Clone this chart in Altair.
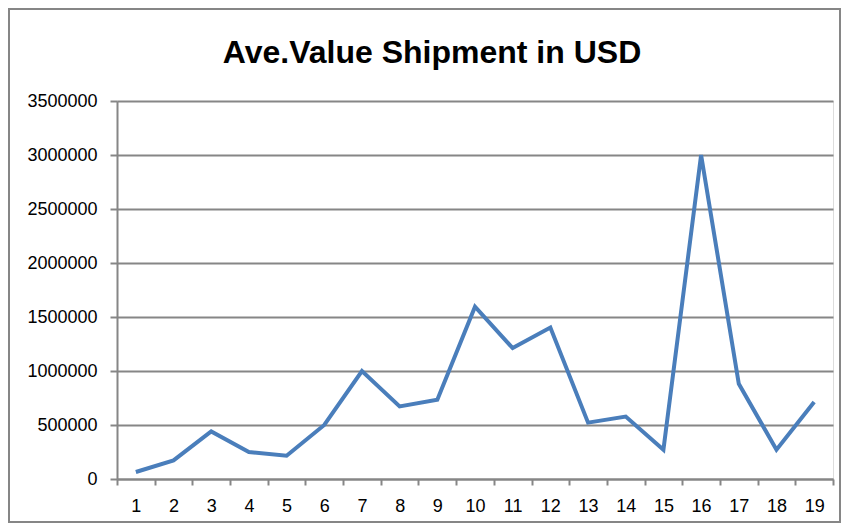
import altair as alt
import pandas as pd

categories = [str(i) for i in range(1, 20)]
values = [65000, 172000, 440000, 250000, 215000, 500000, 1000000, 672000, 733000,
          1595000, 1212000, 1402000, 522000, 578000, 271000, 3000000, 882000, 271000, 712000]
y_ticks = [0, 500000, 1000000, 1500000, 2000000, 2500000, 3000000, 3500000]
title_text = "Ave.Value Shipment in USD"

df = pd.DataFrame({"cat": categories, "val": values})

FONT = "Liberation Sans"
GRAY = "#868686"

line = alt.Chart(df).mark_line(color="#4a7ebb", strokeWidth=4, strokeJoin="miter").encode(
    x=alt.X("cat:O", sort=categories,
            scale=alt.Scale(type="band", paddingInner=0, paddingOuter=0),
            axis=alt.Axis(title=None, labelAngle=0, tickBand="extent", tickSize=6,
                          tickColor=GRAY, tickWidth=2, domainColor=GRAY, domainWidth=2,
                          labelFont=FONT, labelFontSize=18, labelColor="black",
                          labelPadding=12, grid=False)),
    y=alt.Y("val:Q", scale=alt.Scale(domain=[0, 3500000], nice=False),
            axis=alt.Axis(title=None, values=y_ticks, format="d", tickSize=7,
                          tickColor=GRAY, tickWidth=2, domainColor=GRAY, domainWidth=2,
                          gridColor=GRAY, gridWidth=2, grid=True,
                          labelFont=FONT, labelFontSize=18, labelColor="black",
                          labelPadding=13)),
)

one = pd.DataFrame({"a": [0]})

frame = alt.Chart(one).mark_rect(
    fill=None, stroke=GRAY, strokeWidth=2
).encode(
    x=alt.value(-108), x2=alt.value(723), y=alt.value(-92), y2=alt.value(421)
)

title = alt.Chart(one).mark_text(
    font=FONT, fontSize=32, fontWeight="bold", color="black",
    align="center", baseline="alphabetic"
).encode(
    text=alt.value(title_text), x=alt.value(315), y=alt.value(-38)
)

chart = alt.layer(frame, title, line).properties(
    width=716, height=378,
    autosize=alt.AutoSizeParams(type="none"),
    padding={"left": 109, "top": 93, "right": 9, "bottom": 45},
).configure_view(stroke=None).configure(background="white")

chart.save("out.html", embed_options={"renderer": "svg", "actions": False})
